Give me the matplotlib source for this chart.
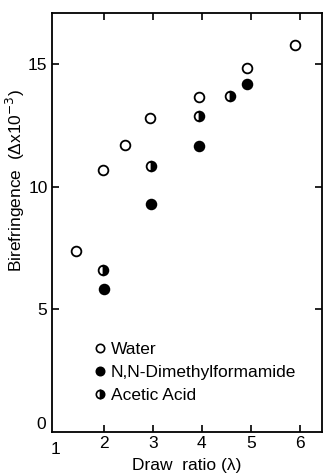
import matplotlib
matplotlib.use("Agg")
import matplotlib.pyplot as plt
from matplotlib.lines import Line2D

plt.rcParams['font.family'] = ['Liberation Sans', 'DejaVu Sans']

water_x = [1.42, 1.97, 2.43, 2.93, 3.94, 4.92, 5.90]
water_y = [7.37, 10.69, 11.70, 12.83, 13.69, 14.85, 15.78]
dmf_x = [2.00, 2.96, 3.94, 4.92]
dmf_y = [5.84, 9.31, 11.67, 14.21]
acetic_x = [1.98, 2.96, 3.94, 4.57]
acetic_y = [6.60, 10.85, 12.91, 13.73]

xticks = [2, 3, 4, 5, 6]
yticks = [5, 10, 15]

fig = plt.figure(figsize=(3.23, 4.74), dpi=100)
ax = fig.add_axes([0.160, 0.0886, 0.836, 0.884])

ms = 7
mew = 1.3
ax.plot(water_x, water_y, 'o', ms=ms, mfc='white', mec='black', mew=mew, ls='none')
ax.plot(dmf_x, dmf_y, 'o', ms=ms, mfc='black', mec='black', mew=mew, ls='none')
ax.plot(acetic_x, acetic_y, 'o', ms=ms, mfc='black', mec='black', mew=mew,
        fillstyle='right', markerfacecoloralt='white', ls='none')

ax.set_xlim(0.93, 6.45)
ax.set_ylim(0, 17.1)
ax.set_xticks(xticks)
ax.set_yticks(yticks)
ax.tick_params(direction='in', length=5, width=1.2, labelsize=12.5,
               top=True, right=True, pad=3)
for s in ax.spines.values():
    s.set_linewidth(1.3)

# corner labels "1" and "0" (no ticks there)
ax.text(1.0, -0.4, '1', ha='center', va='top', fontsize=12.5)
ax.text(0.82, 0.3, '0', ha='right', va='center', fontsize=12.5)

ax.set_xlabel('Draw  ratio (λ)', fontsize=12.5, labelpad=5)
fig.text(0.048, 0.62, 'Birefringence  (Δx10$^{-3}$)', rotation=90,
         ha='center', va='center', fontsize=12.5)

handles = [
    Line2D([], [], marker='o', ls='none', ms=6, mfc='white', mec='black', mew=1.2),
    Line2D([], [], marker='o', ls='none', ms=6, mfc='black', mec='black', mew=1.2),
    Line2D([], [], marker='o', ls='none', ms=6, mfc='black', mec='black', mew=1.2,
           fillstyle='right', markerfacecoloralt='white'),
]
labels = ['Water', 'N,N-Dimethylformamide', 'Acetic Acid']
ax.legend(handles, labels, loc='upper left', bbox_to_anchor=(0.16, 0.215),
          frameon=False, handlelength=0.6, handletextpad=0.3, borderpad=0,
          labelspacing=0.45, fontsize=12.5, borderaxespad=0)

fig.savefig('out.png', dpi=100)
